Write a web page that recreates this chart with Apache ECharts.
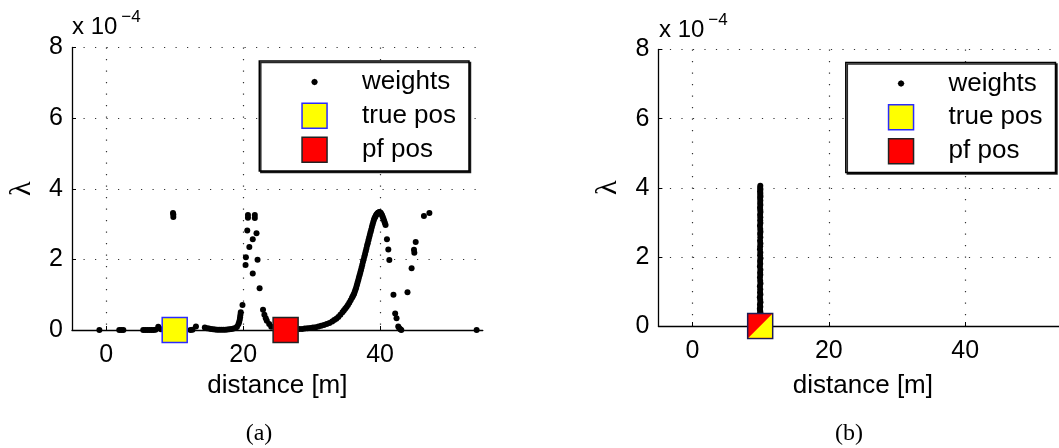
<!DOCTYPE html>
<html><head><meta charset="utf-8">
<script src="https://cdn.jsdelivr.net/npm/echarts@6/dist/echarts.min.js"></script>
<style>html,body{margin:0;padding:0;background:#fff}#c{width:1059px;height:448px}</style>
</head><body><div id="c"></div>
<script>
// ---------- data ----------
const xTickValues = [0, 20, 40];
const yTickValues = [0, 2, 4, 6, 8];
const legendNames = ['weights', 'true pos', 'pf pos'];
const captions = ['(a)', '(b)'];

// panel (a): particle weights  (distance [m], lambda x 1e-4)
const distA = [
  -1.0, 1.9, 2.2, 2.5, 5.4, 5.7, 6.0, 6.3, 6.6, 6.9, 7.2, 7.6, 8.0, 12.3, 12.6, 13.1,
  9.75, 9.8, 9.8,
  14.4, 14.7, 15.0, 15.3, 15.6, 15.9, 16.2, 16.5, 16.8, 17.1, 17.4, 17.7, 18.0, 18.3, 18.6, 18.9, 19.1,
  19.3, 19.4, 19.5, 19.55, 19.6, 19.65, 19.9,
  20.35, 20.4, 20.9, 20.6, 21.4, 20.7, 20.7, 21.7, 21.7, 21.95, 22.1, 21.4, 22.4, 22.9, 23.1, 23.3, 23.45, 23.8, 24.1,
  28.2, 28.6, 29.0, 29.4, 29.8, 30.2, 30.6, 31.0, 31.4, 31.8, 32.2, 32.6, 33.0, 33.3, 33.6, 33.9, 34.2, 34.5, 34.7, 34.9,
  35.1, 35.3, 35.5, 35.7, 35.9, 36.0, 36.1, 36.2, 36.3, 36.4, 36.5, 36.6, 36.7, 36.8, 36.9, 37.0, 37.1, 37.2, 37.3, 37.4,
  37.5, 37.6, 37.7, 37.8, 37.9, 38.0, 38.1, 38.2, 38.3, 38.4, 38.5, 38.6, 38.7, 38.8, 38.9, 39.0, 39.1, 39.2, 39.3, 39.4,
  39.5, 39.6, 39.7, 39.8, 39.9, 40.0, 40.1, 40.2, 40.3, 40.4, 40.5, 40.6, 40.7, 40.8,
  41.0, 41.2, 41.35, 41.95, 42.2, 42.4, 42.65, 42.8, 42.95, 43.1,
  44.0, 44.6, 44.95, 45.0, 45.2, 46.4, 47.2, 54.1
];
const lamA = [
  0, 0, 0, 0, 0, 0, 0, 0, 0, 0, 0.01, 0.09, 0.02, 0, 0.01, 0.10,
  3.31, 3.27, 3.20,
  0.07, 0.05, 0.04, 0.03, 0.02, 0.015, 0.01, 0.01, 0.01, 0.01, 0.01, 0.015, 0.02, 0.03, 0.04, 0.06, 0.09,
  0.16, 0.22, 0.29, 0.36, 0.43, 0.50, 0.71,
  1.84, 2.06, 2.35, 2.82, 2.57, 3.26, 3.18, 3.26, 3.17, 2.74, 1.99, 1.60, 1.18, 0.57, 0.43, 0.33, 0.26, 0.17, 0.09,
  0.03, 0.03, 0.04, 0.05, 0.06, 0.07, 0.08, 0.10, 0.12, 0.14, 0.17, 0.20, 0.24, 0.28, 0.32, 0.37, 0.43, 0.50, 0.55, 0.60,
  0.65, 0.71, 0.77, 0.84, 0.91, 0.95, 0.99, 1.03, 1.08, 1.14, 1.20, 1.27, 1.34, 1.41, 1.48, 1.55, 1.62, 1.69, 1.77, 1.85,
  1.93, 2.00, 2.08, 2.15, 2.23, 2.31, 2.39, 2.46, 2.54, 2.62, 2.69, 2.77, 2.84, 2.92, 2.99, 3.06, 3.12, 3.17, 3.21, 3.25,
  3.28, 3.30, 3.32, 3.33, 3.34, 3.33, 3.31, 3.28, 3.24, 3.19, 3.14, 3.09, 3.03, 2.97,
  2.57, 2.28, 1.98, 1.00, 0.47, 0.33, 0.10, 0.05, 0.02, 0.0,
  1.07, 1.75, 2.27, 2.19, 2.49, 3.23, 3.31, 0
];
const truePosA = [10.0, 0];
const pfPosA = [26.2, 0];

// panel (b): particle weights after convergence
const distB = [
  9.95, 9.93, 9.96, 9.92, 9.95, 9.94, 9.97, 9.92, 9.95, 9.93, 9.96, 9.91, 9.94, 9.97, 9.92, 9.95,
  9.93, 9.96, 9.90, 9.94, 9.97, 9.92, 9.95, 9.91, 9.96, 9.93, 9.90, 9.95, 9.92, 9.97, 9.91, 9.94,
  9.89, 9.96, 9.92, 9.95, 9.90, 9.93, 9.97, 9.89, 9.94, 9.91, 9.96, 9.88, 9.93, 9.97, 9.90, 9.95,
  9.88, 9.92, 9.96, 9.90, 9.94, 9.89, 9.97, 9.91, 9.95
];
const lamB = [
  4.06, 4.00, 3.95, 3.90, 3.85, 3.80, 3.75, 3.70, 3.63, 3.56, 3.50, 3.43, 3.36, 3.30, 3.22, 3.15,
  3.06, 2.98, 2.90, 2.81, 2.73, 2.66, 2.57, 2.47, 2.39, 2.31, 2.22, 2.13, 2.05, 1.96, 1.88, 1.80,
  1.72, 1.63, 1.55, 1.48, 1.40, 1.31, 1.23, 1.15, 1.06, 0.98, 0.91, 0.83, 0.76, 0.69, 0.62, 0.56,
  0.50, 0.45, 0.40, 0.35, 0.30, 0.25, 0.20, 0.15, 0.10
];
const truePosB = [9.93, 0];
const pfPosB = [9.93, 0];

// ---------- chart ----------
const FONT = 'Liberation Sans, Arial, Helvetica, sans-serif';
const SERIF = 'Liberation Serif, DejaVu Serif, serif';
const zip = (xs, ys) => xs.map((x, i) => [x, ys[i]]);

const dotIcon = 'path://M0,0M26,26M16.4,13L15.4,15.4L13,16.4L10.6,15.4L9.6,13L10.6,10.6L13,9.6L15.4,10.6Z';

function xAxisDef(gridIndex, nameGap) {
  return {
    gridIndex, type: 'value', min: -5, max: 55,
    name: 'distance [m]', nameLocation: 'middle', nameGap,
    nameTextStyle: { fontFamily: FONT, fontSize: 26, color: '#000' },
    axisLine: { show: true, onZero: false, lineStyle: { color: '#000', width: 1.3 } },
    axisTick: { show: true, inside: true, length: 4, customValues: xTickValues, lineStyle: { color: '#000' } },
    axisLabel: { customValues: xTickValues, fontFamily: FONT, fontSize: 25, color: '#000', margin: 13 },
    splitLine: { show: true, lineStyle: { color: '#333', width: 1.2, type: [1.2, 10.3] } }
  };
}
function yAxisDef(gridIndex) {
  return {
    gridIndex, type: 'value', min: yTickValues[0], max: yTickValues[yTickValues.length - 1], interval: 2,
    name: 'λ', nameLocation: 'middle', nameGap: 35, nameRotate: 90,
    nameTextStyle: { fontFamily: SERIF, fontSize: 30, color: '#000' },
    axisLine: { show: true, onZero: false, lineStyle: { color: '#000', width: 1.3 } },
    axisTick: { show: true, inside: true, length: 4, lineStyle: { color: '#000' } },
    axisLabel: { fontFamily: FONT, fontSize: 25, color: '#000', margin: 9 },
    splitLine: { show: true, lineStyle: { color: '#333', width: 1.2, type: [1.2, 10.3] } }
  };
}
function legendDef(left, top) {
  return {
    orient: 'vertical', left, top,
    itemWidth: 25, itemHeight: 25, itemGap: 7.5,
    padding: [8, 13, 8, 42],
    backgroundColor: '#fff', borderColor: '#000', borderWidth: 1.5,
    shadowColor: 'rgba(0,0,0,0.85)', shadowOffsetX: 1.5, shadowOffsetY: 1.5, shadowBlur: 0,
    selectedMode: false,
    textStyle: { fontFamily: FONT, fontSize: 26, color: '#000', padding: [0, 0, 0, 30] },
    data: [
      { name: legendNames[0], icon: dotIcon, itemStyle: { color: '#000', borderWidth: 0, opacity: 1 } },
      { name: legendNames[1], icon: 'rect', itemStyle: { color: '#ffff00', borderColor: '#2a2aff', borderWidth: 1.5, opacity: 1 } },
      { name: legendNames[2], icon: 'rect', itemStyle: { color: '#ff0000', borderColor: '#222', borderWidth: 1.5, opacity: 1 } }
    ]
  };
}
function expTitle(left, top) {
  return {
    left, top, padding: 0,
    text: '{a|x 10}{b|−4}',
    textStyle: {
      fontWeight: 'normal',
      rich: {
        a: { fontFamily: FONT, fontSize: 24, fontWeight: 'normal', color: '#000', lineHeight: 30, verticalAlign: 'bottom' },
        b: { fontFamily: FONT, fontSize: 17, fontWeight: 'normal', color: '#000', lineHeight: 10, verticalAlign: 'top', padding: [0, 0, 0, 4] }
      }
    }
  };
}

const gridBase = { outerBoundsMode: 'none', containLabel: false };

const option = {
  animation: false,
  backgroundColor: '#fff',
  title: [
    expTitle(72, 9),
    expTitle(659, 12),
    { text: captions[0], left: 259, top: 422, textAlign: 'center', padding: 0, textStyle: { fontFamily: SERIF, fontSize: 24, fontWeight: 'normal', color: '#000' } },
    { text: captions[1], left: 849, top: 422, textAlign: 'center', padding: 0, textStyle: { fontFamily: SERIF, fontSize: 24, fontWeight: 'normal', color: '#000' } }
  ],
  grid: [
    Object.assign({ left: 72, top: 47.5, width: 410.8, height: 282.5 }, gridBase),
    Object.assign({ left: 658.4, top: 49.5, width: 409, height: 276.5 }, gridBase)
  ],
  xAxis: [xAxisDef(0, 43), xAxisDef(1, 47)],
  yAxis: [yAxisDef(0), yAxisDef(1)],
  legend: [legendDef(259.3, 61), legendDef(845.8, 62.5)],
  series: [
    { name: legendNames[0], type: 'scatter', xAxisIndex: 0, yAxisIndex: 0, symbol: 'circle', symbolSize: 6,
      itemStyle: { color: '#000', opacity: 1 }, z: 2, data: zip(distA, lamA) },
    { name: legendNames[1], type: 'scatter', xAxisIndex: 0, yAxisIndex: 0, symbol: 'rect', symbolSize: 25,
      itemStyle: { color: '#ffff00', borderColor: '#2a2aff', borderWidth: 1.5, opacity: 1 }, z: 3, data: [truePosA] },
    { name: legendNames[2], type: 'scatter', xAxisIndex: 0, yAxisIndex: 0, symbol: 'rect', symbolSize: 25,
      itemStyle: { color: '#ff0000', borderColor: '#222', borderWidth: 1.5, opacity: 1 }, z: 3, data: [pfPosA] },

    { name: legendNames[0], type: 'scatter', xAxisIndex: 1, yAxisIndex: 1, symbol: 'circle', symbolSize: 6,
      itemStyle: { color: '#000', opacity: 1 }, z: 2, data: zip(distB, lamB) },
    { name: legendNames[2], type: 'scatter', xAxisIndex: 1, yAxisIndex: 1, symbol: 'rect', symbolSize: 25,
      itemStyle: { color: '#ff0000', borderColor: '#222', borderWidth: 1.5, opacity: 1 }, z: 3,
      data: [{ value: pfPosB, itemStyle: { borderColor: '#1c1c55' } }] },
    { name: legendNames[1], type: 'scatter', xAxisIndex: 1, yAxisIndex: 1, symbol: 'rect', symbolSize: 25,
      itemStyle: { color: '#ffff00', borderColor: '#2a2aff', borderWidth: 1.5, opacity: 1 }, z: 4,
      data: [{ value: truePosB, symbol: 'path://M0,0M100,100M97,3L97,97L3,97Z', itemStyle: { color: '#ffff00', borderWidth: 0 } }] }
  ]
};
const chart = echarts.init(document.getElementById('c'), null, { renderer: 'canvas' });
chart.setOption(option);
</script>
</body></html>
